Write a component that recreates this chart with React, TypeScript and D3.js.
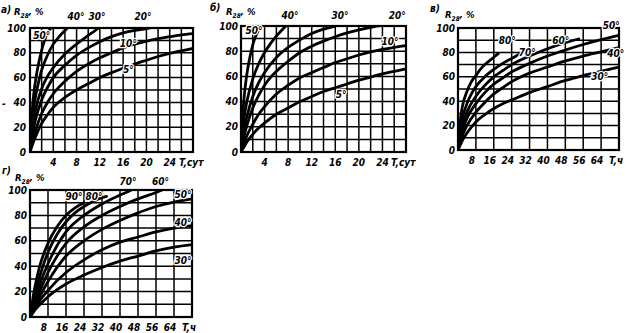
import React from "react";
import * as d3 from "d3";

type Pt = [number, number];

// ---------- DATA ----------
const pctTicks = [0, 20, 40, 60, 80, 100];
const pctGrid = [0, 10, 20, 30, 40, 50, 60, 70, 80, 90, 100];
const dayTicks = [4, 8, 12, 16, 20, 24];
const dayGrid = [0, 2, 4, 6, 8, 10, 12, 14, 16, 18, 20, 22, 24, 26, 28];
const hourTicks = [8, 16, 24, 32, 40, 48, 56, 64];
const hourGrid = [0, 8, 16, 24, 32, 40, 48, 56, 64, 72];

// panel а (days)
const a50: Pt[] = [[0,0],[0.25,24],[0.5,40],[0.75,51],[1,59],[1.5,72],[2,82],[2.5,90],[3,96],[3.5,99.5],[3.8,101]];
const a40: Pt[] = [[0,0],[0.25,18],[0.5,31],[1,46],[1.5,57],[2,66],[3,78],[4,87],[5,93],[6,98],[6.6,101]];
const a30: Pt[] = [[0,0],[0.5,22],[1,35],[2,51],[3,61],[4,68],[6,79],[8,87],[10,94],[11.5,99],[12,101]];
const a20: Pt[] = [[0,0],[0.5,16],[1,27],[2,42],[3,52],[4,60],[6,70],[8,78],[10,84],[12,89],[14,93],[16,96],[18,98],[20,99.5],[21.5,101]];
const a10: Pt[] = [[0,0],[0.5,10],[1,18],[2,31],[3,40],[4,47],[6,57],[8,65],[10,71],[12,76],[14,80],[16,84],[18,87],[20,89.5],[22,91.5],[24,93],[26,94.5],[28,95.5]];
const a5: Pt[] = [[0,0],[0.5,7],[1,13],[2,23],[3,30],[4,36],[6,44],[8,50],[10,55],[12,60],[14,64],[16,67.5],[18,71],[20,74],[22,77],[24,79.5],[26,81.5],[28,83.5]];
const tempsA = ["50°", "40°", "30°", "20°", "10°", "5°"];

// panel б (days)
const b50: Pt[] = [[0,0],[0.25,26],[0.5,42],[0.75,53],[1,62],[1.5,75],[2,85],[2.5,92],[3,97],[3.4,101]];
const b40: Pt[] = [[0,0],[0.5,26],[1,40],[2,58],[3,70],[4,79],[5,86],[6,92],[7,97],[7.8,101]];
const b30: Pt[] = [[0,0],[0.5,17],[1,28],[2,44],[3,55],[4,63],[6,75],[8,83],[10,89],[12,94],[14,97.5],[16,100],[16.5,101]];
const b20: Pt[] = [[0,0],[0.5,12],[1,21],[2,35],[3,45],[4,53],[6,64],[8,72],[10,79],[12,84],[14,88],[16,91.5],[18,94.5],[20,97],[22,99],[24,100.5],[26,101.5],[28,102.5]];
const b10: Pt[] = [[0,0],[0.5,7],[1,13],[2,22],[3,30],[4,36],[6,46],[8,53],[10,59],[12,63],[14,67],[16,71],[18,74],[20,77],[22,79.5],[24,81.5],[26,83],[28,84.5]];
const b5: Pt[] = [[0,0],[0.5,4],[1,8],[2,14],[3,19],[4,23],[6,30],[8,35],[10,40],[12,44],[14,48],[16,51],[18,54],[20,57],[22,59.5],[24,62],[26,64],[28,66]];
const tempsB = ["50°", "40°", "30°", "20°", "10°", "5°"];

// panel в (hours)
const v80: Pt[] = [[0,0],[0.5,14],[1,24],[2,36],[4,48],[6,56],[8,61],[10,66],[12,70],[14,73],[16,76],[18,79]];
const v70: Pt[] = [[0,0],[1,16],[2,26],[4,38],[6,46],[8,52],[12,60],[16,66],[20,71],[24,75],[28,79]];
const v60: Pt[] = [[0,0],[1,12],[2,20],[4,31],[8,44],[12,53],[16,60],[20,65],[24,70],[32,77],[40,83],[48,88],[54,91]];
const v50: Pt[] = [[0,0],[1,9],[2,16],[4,26],[8,38],[12,47],[16,54],[20,59],[24,64],[32,71],[40,77],[48,82],[56,86.5],[64,90.5],[72,94]];
const v40: Pt[] = [[0,0],[2,12],[4,20],[8,31],[12,39],[16,46],[20,51],[24,56],[32,63],[40,68],[48,73],[56,77],[64,80.5],[72,84]];
const v30: Pt[] = [[0,0],[2,8],[4,14],[8,23],[12,29],[16,34],[20,38],[24,41],[32,47],[40,52],[48,57],[56,61],[64,64.5],[72,68]];
const tempsV = ["80°", "70°", "60°", "50°", "40°", "30°"];

// panel г (hours)
const g90: Pt[] = [[0,0],[2,22],[4,38],[8,58],[12,71],[16,80],[20,86],[24,90]];
const g80: Pt[] = [[0,0],[2,17],[4,30],[8,51],[12,65],[16,75],[20,82],[24,87],[28,91],[32,94],[34,95]];
const g70: Pt[] = [[0,0],[2,13],[4,24],[8,42],[16,67],[24,80],[32,89],[40,96],[45,100],[46,101]];
const g60: Pt[] = [[0,0],[2,10],[4,19],[8,35],[16,58],[24,71],[32,80],[40,87],[48,93],[56,98],[60,101]];
const g50: Pt[] = [[0,0],[2,8],[4,15],[8,28],[16,48],[24,60],[32,69],[40,76],[48,82],[56,87],[64,90.5],[72,93]];
const g40: Pt[] = [[0,0],[2,6],[4,12],[8,21],[16,35],[24,45],[32,53],[40,59],[48,63],[56,67],[64,70],[72,72]];
const g30: Pt[] = [[0,0],[2,5],[4,9],[8,16],[16,26],[24,33],[32,39],[40,44],[48,48],[56,52],[64,55],[72,57]];
const tempsG = ["90°", "80°", "70°", "60°", "50°", "40°", "30°"];

// ---------- LAYOUT ----------
const FONT = "'DejaVu Sans Condensed','Liberation Sans Narrow','DejaVu Sans',sans-serif";

type PanelCfg = {
  id: string;
  letter: string;
  frame: { l: number; r: number; t: number; b: number };
  xMax: number;
  xGrid: number[];
  xTicks: number[];
  tickDx: number;
  unit: string;
  unitDx: number;
  letterPos: Pt;
  titlePos: Pt;
  yLabelGap: number;
  series: Pt[][];
  temps: string[];
  tempPos: Pt[];
};

const panels: PanelCfg[] = [
  {
    id: "a", letter: "а)", frame: { l: 30, r: 193, t: 28, b: 152 }, xMax: 28,
    xGrid: dayGrid, xTicks: dayTicks, tickDx: 0, unit: "T,сут", unitDx: -14,
    letterPos: [1, 13], titlePos: [14, 15], yLabelGap: 4,
    series: [a50, a40, a30, a20, a10, a5], temps: tempsA,
    tempPos: [[2.0, 91.5], [7.9, 106.5], [11.5, 106.5], [19.4, 106.5], [16.9, 85], [16.9, 64]],
  },
  {
    id: "b", letter: "б)", frame: { l: 241, r: 406, t: 26, b: 152 }, xMax: 28,
    xGrid: dayGrid, xTicks: dayTicks, tickDx: 0, unit: "T,сут", unitDx: -15,
    letterPos: [210, 11], titlePos: [226, 15], yLabelGap: 3,
    series: [b50, b40, b30, b20, b10, b5], temps: tempsB,
    tempPos: [[2.2, 94], [8.3, 105.5], [16.8, 105.5], [26.5, 105.5], [25.3, 85], [17, 43]],
  },
  {
    id: "v", letter: "в)", frame: { l: 458, r: 619, t: 28, b: 150 }, xMax: 72,
    xGrid: hourGrid, xTicks: hourTicks, tickDx: -4, unit: "T,ч", unitDx: -10,
    letterPos: [430, 12], titlePos: [445, 18], yLabelGap: 3,
    series: [v80, v70, v60, v50, v40, v30], temps: tempsV,
    tempPos: [[22, 87], [31, 77], [46, 87], [68.5, 99], [70.5, 76], [63.4, 57]],
  },
  {
    id: "g", letter: "г)", frame: { l: 30, r: 192, t: 190, b: 317 }, xMax: 72,
    xGrid: hourGrid, xTicks: hourTicks, tickDx: -4, unit: "T,ч", unitDx: -10,
    letterPos: [2, 174], titlePos: [15, 181], yLabelGap: 3,
    series: [g90, g80, g70, g60, g50, g40, g30], temps: tempsG,
    tempPos: [[19.6, 92], [28.4, 92], [43.6, 104], [58, 104], [68, 94], [68, 72], [68, 42]],
  },
];

const textStyle: React.CSSProperties = {
  fontFamily: FONT,
  fontWeight: "bold",
  fontStyle: "italic",
};

function Panel({ cfg }: { cfg: PanelCfg }) {
  const { l, r, t, b } = cfg.frame;
  const x = d3.scaleLinear().domain([0, cfg.xMax]).range([l, r]);
  const y = d3.scaleLinear().domain([0, 100]).range([b, t]);
  const line = d3
    .line<Pt>()
    .x((d) => x(d[0]))
    .y((d) => y(d[1]))
    .curve(d3.curveMonotoneX);
  const clipId = `clip-${cfg.id}`;
  return (
    <g>
      <defs>
        <clipPath id={clipId}>
          <rect x={l} y={t} width={r - l} height={b - t} />
        </clipPath>
      </defs>
      {cfg.xGrid.map((v) => (
        <line key={`vx${v}`} x1={x(v)} x2={x(v)} y1={t} y2={b} stroke="#000" strokeWidth={1.5} />
      ))}
      {pctGrid.map((v) => (
        <line key={`hy${v}`} x1={l} x2={r} y1={y(v)} y2={y(v)} stroke="#000" strokeWidth={1.5} />
      ))}
      <rect x={l} y={t} width={r - l} height={b - t} fill="none" stroke="#000" strokeWidth={2.2} />
      <g clipPath={`url(#${clipId})`}>
        {cfg.series.map((s, i) => (
          <path key={i} d={line(s) || ""} fill="none" stroke="#000" strokeWidth={2.8} strokeLinecap="round" />
        ))}
      </g>
      {pctTicks.map((v) => (
        <text key={`yl${v}`} x={l - cfg.yLabelGap} y={y(v) + 3.5} textAnchor="end" fontSize={10} style={textStyle}>
          {v}
        </text>
      ))}
      {cfg.xTicks.map((v) => (
        <text key={`xl${v}`} x={x(v) + cfg.tickDx} y={b + 14} textAnchor="middle" fontSize={10} style={textStyle}>
          {v}
        </text>
      ))}
      <text x={x(cfg.xMax) + cfg.unitDx} y={b + 14} textAnchor="start" fontSize={10} style={textStyle}>
        {cfg.unit}
      </text>
      <text x={cfg.letterPos[0]} y={cfg.letterPos[1]} fontSize={10} style={textStyle}>
        {cfg.letter}
      </text>
      <text x={cfg.titlePos[0]} y={cfg.titlePos[1]} fontSize={9.5} style={textStyle}>
        R
        <tspan fontSize={6.5} dy={2.5}>28</tspan>
        <tspan dy={-2.5}>, %</tspan>
      </text>
      {cfg.temps.map((tx, i) => (
        <text
          key={`t${i}`}
          x={x(cfg.tempPos[i][0])}
          y={y(cfg.tempPos[i][1])}
          textAnchor="middle"
          fontSize={10}
          style={{ ...textStyle, paintOrder: "stroke" }}
          stroke="#fff"
          strokeWidth={2.5}
          fill="#000"
        >
          {tx}
        </text>
      ))}
    </g>
  );
}

export default function App() {
  return (
    <svg
      width={631}
      height={333}
      viewBox="0 0 631 333"
      style={{ position: "absolute", left: 0, top: 0, background: "#fff" }}
    >
      <rect x={0} y={0} width={631} height={333} fill="#fff" />
      {panels.map((p) => (
        <Panel key={p.id} cfg={p} />
      ))}
      <text x={2} y={107} fontSize={10} style={textStyle}>-</text>
    </svg>
  );
}
